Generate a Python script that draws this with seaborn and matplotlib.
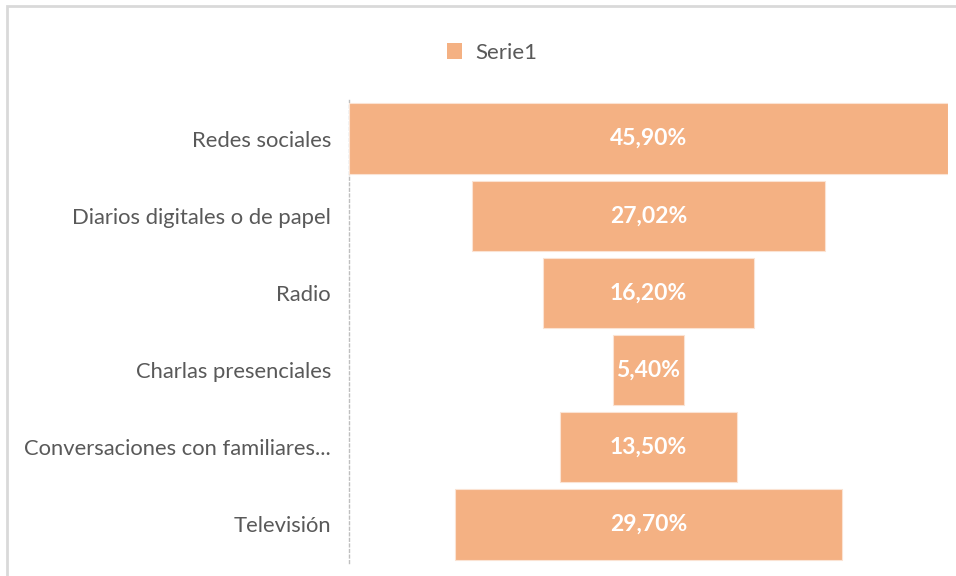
import pandas as pd
import seaborn as sns
import matplotlib.pyplot as plt
from matplotlib.patches import Rectangle, Patch

categories = ["Redes sociales", "Diarios digitales o de papel", "Radio",
              "Charlas presenciales", "Conversaciones con familiares...", "Televisión"]
values = [45.90, 27.02, 16.20, 5.40, 13.50, 29.70]
series_name = "Serie1"

bar_color = "#F4B183"
text_gray = "#595959"

df = pd.DataFrame({"categoria": categories, "valor": values})

sns.set_style("white")
plt.rcParams["font.family"] = ["Lato", "DejaVu Sans"]

fig = plt.figure(figsize=(9.56, 5.76), dpi=100)
ax = fig.add_axes([349 / 956, 1 - 563 / 576, (948 - 349) / 956, (563 - 100) / 576])

sns.barplot(data=df, y="categoria", x="valor", color=bar_color, saturation=1,
            width=0.91, edgecolor="#FBE3D3", linewidth=0.8, ax=ax, zorder=3)

# funnel: centre every bar on the widest one
vmax = max(values)
for p, v in zip(ax.patches, values):
    p.set_x((vmax - p.get_width()) / 2)
    ax.text(vmax / 2, p.get_y() + p.get_height() / 2,
            f"{v:.2f}%".replace(".", ","), ha="center", va="center",
            color="white", fontsize=16.5, fontweight="bold", fontstretch="condensed",
            zorder=4)

ax.set_xlim(0, vmax)
ax.set_ylim(5.5, -0.5)
ax.set_xlabel("")
ax.set_ylabel("")
ax.set_xticks([])
ax.tick_params(axis="y", length=0, pad=13, labelsize=15.8, labelcolor=text_gray)

for side in ["top", "right", "bottom"]:
    ax.spines[side].set_visible(False)
ax.spines["left"].set_color("#BFBFBF")
ax.spines["left"].set_linestyle((0, (2, 2)))
ax.spines["left"].set_linewidth(1)

fig.legend(handles=[Patch(facecolor=bar_color, edgecolor="none", label=series_name)],
           loc="center", bbox_to_anchor=(0.515, 0.908), frameon=False,
           fontsize=16, labelcolor=text_gray, handlelength=0.7, handleheight=0.7,
           handletextpad=0.6)

# chart frame, cut at right and bottom like the screenshot
fig.patches.append(Rectangle((7 / 956, -0.1), 2, 1.1 - 6 / 576, transform=fig.transFigure,
                             fill=False, edgecolor="#D9D9D9", linewidth=2))

fig.savefig("out.png", dpi=100)
